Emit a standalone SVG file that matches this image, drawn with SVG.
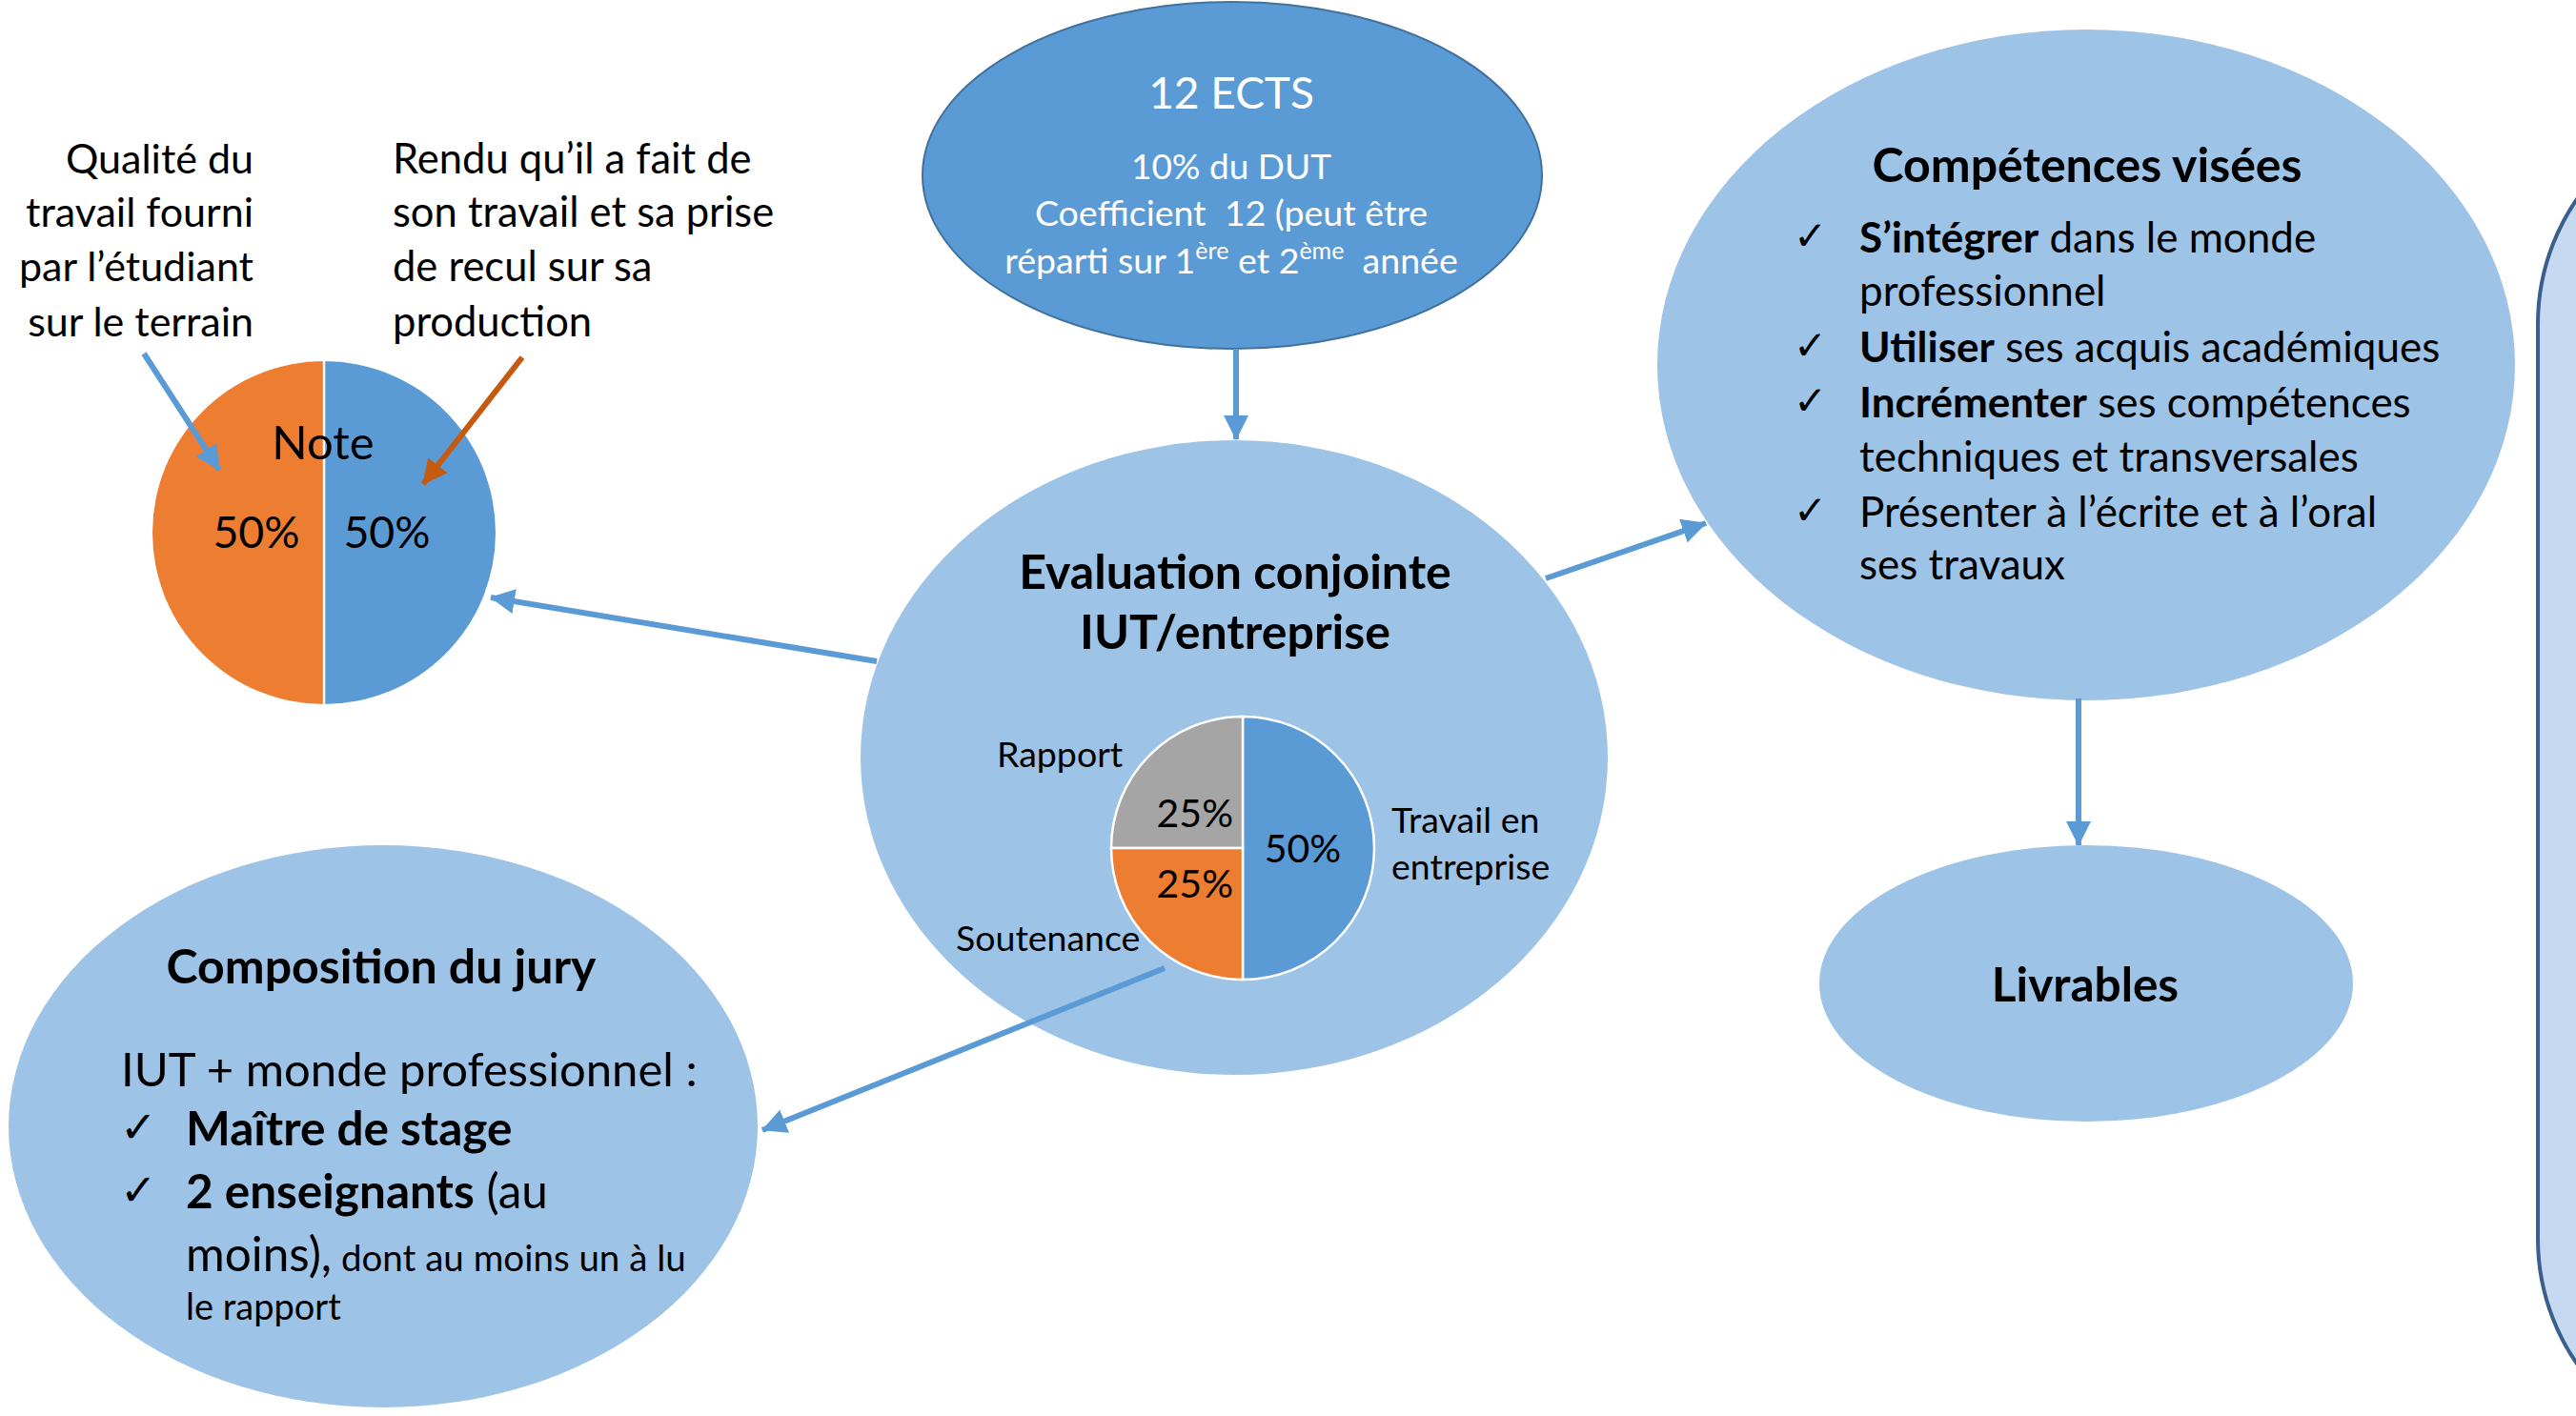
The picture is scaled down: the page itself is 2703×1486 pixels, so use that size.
<svg xmlns="http://www.w3.org/2000/svg" width="2703" height="1486" viewBox="0 0 2703 1486">
<style>
.t{font-family:Lato,'Open Sans','Liberation Sans',sans-serif;fill:#000}
.b{font-weight:bold}
.w{fill:#fff}
.ck{font-family:'DejaVu Sans',sans-serif;fill:#000}
.ell{fill:#9DC3E6}
.conn{stroke:#5B9BD5;stroke-width:6;fill:none;marker-end:url(#ah)}
.pw{stroke:#fff;stroke-width:2.5}
</style>
<defs>
<marker id="ah" markerUnits="userSpaceOnUse" markerWidth="26" markerHeight="26" viewBox="0 0 26 26" refX="25" refY="13" orient="auto"><path d="M0,0 L26,13 L0,26 Z" fill="#5B9BD5"/></marker>
<marker id="ahb" markerUnits="userSpaceOnUse" markerWidth="26" markerHeight="26" viewBox="0 0 26 26" refX="25" refY="13" orient="auto"><path d="M0,0 L26,13 L0,26 Z" fill="#5B9BD5"/></marker>
<marker id="aho" markerUnits="userSpaceOnUse" markerWidth="26" markerHeight="26" viewBox="0 0 26 26" refX="25" refY="13" orient="auto"><path d="M0,0 L26,13 L0,26 Z" fill="#C55A11"/></marker>
</defs>
<rect width="2703" height="1486" fill="#fff"/>

<g id="panel">
<rect x="2663" y="110" width="600" height="1420" rx="230" ry="230" fill="#C6D9F0" stroke="#3A5F8E" stroke-width="4"/>
</g>

<g id="note">
<path d="M340,379 A180,180 0 0 0 340,739 Z" fill="#ED7D31"/>
<path d="M340,379 A180,180 0 0 1 340,739 Z" fill="#5B9BD5"/>
<line x1="340" y1="379" x2="340" y2="739" class="pw"/>
<text class="t" x="339" y="482" font-size="49" text-anchor="middle">Note</text>
<text class="t" x="269" y="575" font-size="46.5" text-anchor="middle">50%</text>
<text class="t" x="406" y="575" font-size="46.5" text-anchor="middle">50%</text>
<g class="t" font-size="43" text-anchor="end">
<text class="t" x="266" y="182">Qualité du</text>
<text class="t" x="266" y="238">travail fourni</text>
<text class="t" x="266" y="295">par l’étudiant</text>
<text class="t" x="266" y="353">sur le terrain</text>
</g>
<g class="t" font-size="43.5">
<text class="t" x="412" y="182">Rendu qu’il a fait de</text>
<text class="t" x="412" y="238">son travail et sa prise</text>
<text class="t" x="412" y="295">de recul sur sa</text>
<text class="t" x="412" y="353">production</text>
</g>
</g>

<g id="ects">
<ellipse cx="1293" cy="184" rx="325" ry="182" fill="#5B9BD5" stroke="#41719C" stroke-width="2"/>
<text class="t w" x="1292" y="114" font-size="46" text-anchor="middle">12 ECTS</text>
<text class="t w" x="1292" y="188" font-size="37" text-anchor="middle">10% du DUT</text>
<text class="t w" x="1292" y="237" font-size="37.5" text-anchor="middle" xml:space="preserve">Coefficient  12 (peut être</text>
<text class="t w" x="1292" y="287" font-size="37.5" text-anchor="middle" xml:space="preserve">réparti sur 1<tspan font-size="25" dy="-15">ère</tspan><tspan dy="15"> et 2</tspan><tspan font-size="25" dy="-15">ème</tspan><tspan dy="15">  année</tspan></text>
</g>

<g id="evaluation">
<ellipse class="ell" cx="1295" cy="795" rx="392" ry="333"/>
<text class="t b" x="1296" y="618" font-size="50" text-anchor="middle">Evaluation conjointe</text>
<text class="t b" x="1296" y="681" font-size="50" text-anchor="middle">IUT/entreprise</text>
<path d="M1304,752 A138,138 0 0 1 1304,1028 Z" fill="#5B9BD5" class="pw"/>
<path d="M1304,890 L1304,752 A138,138 0 0 0 1166,890 Z" fill="#A5A5A5" class="pw"/>
<path d="M1304,890 L1166,890 A138,138 0 0 0 1304,1028 Z" fill="#ED7D31" class="pw"/>
<text class="t" x="1046" y="805" font-size="37.5">Rapport</text>
<text class="t" x="1003" y="998" font-size="37.5">Soutenance</text>
<text class="t" x="1460" y="874" font-size="37.5">Travail en</text>
<text class="t" x="1460" y="923" font-size="37.5">entreprise</text>
<text class="t" x="1294" y="868" font-size="41" text-anchor="end">25%</text>
<text class="t" x="1294" y="942" font-size="41" text-anchor="end">25%</text>
<text class="t" x="1367" y="905" font-size="41" text-anchor="middle">50%</text>
</g>

<g id="competences">
<ellipse class="ell" cx="2189" cy="383" rx="450" ry="352"/>
<text class="t b" x="2190" y="191" font-size="50" text-anchor="middle">Compétences visées</text>
<g class="ck" font-size="42">
<text x="1882" y="262">✓</text>
<text x="1882" y="377">✓</text>
<text x="1882" y="435">✓</text>
<text x="1882" y="550">✓</text>
</g>
<g class="t" font-size="44">
<text class="t" x="1951" y="265"><tspan class="b">S’intégrer</tspan> dans le monde</text>
<text class="t" x="1951" y="321">professionnel</text>
<text class="t" x="1951" y="380"><tspan class="b">Utiliser</tspan> ses acquis académiques</text>
<text class="t" x="1951" y="438"><tspan class="b">Incrémenter</tspan> ses compétences</text>
<text class="t" x="1951" y="495">techniques et transversales</text>
<text class="t" x="1951" y="553">Présenter à l’écrite et à l’oral</text>
<text class="t" x="1951" y="608">ses travaux</text>
</g>
</g>

<g id="livrables">
<ellipse class="ell" cx="2189" cy="1032" rx="280" ry="145"/>
<text class="t b" x="2188" y="1051" font-size="49.5" text-anchor="middle">Livrables</text>
</g>

<g id="composition">
<ellipse class="ell" cx="402" cy="1182" rx="393" ry="295"/>
<text class="t b" x="400" y="1032" font-size="50" text-anchor="middle">Composition du jury</text>
<text class="t" x="127" y="1140" font-size="49">IUT + monde professionnel :</text>
<g class="ck" font-size="46">
<text x="126" y="1199">✓</text>
<text x="126" y="1265">✓</text>
</g>
<text class="t b" x="195" y="1202" font-size="49.5">Maître de stage</text>
<text class="t" x="195" y="1268" font-size="49.5"><tspan class="b">2 enseignants</tspan> (au</text>
<text class="t" x="195" y="1334" font-size="49.5">moins),<tspan font-size="38.5"> dont au moins un à lu</tspan></text>
<text class="t" x="195" y="1385" font-size="38">le rapport</text>
</g>

<g id="connectors">
<line class="conn" x1="1297" y1="366" x2="1297" y2="461"/>
<line class="conn" x1="920" y1="694" x2="515" y2="627"/>
<line class="conn" x1="1622" y1="607" x2="1790" y2="549"/>
<line class="conn" x1="1222" y1="1016" x2="800" y2="1186"/>
<line class="conn" x1="2181" y1="733" x2="2181" y2="887"/>
<line x1="151" y1="371" x2="230" y2="493" stroke="#5B9BD5" stroke-width="6" marker-end="url(#ahb)"/>
<line x1="548" y1="375" x2="444" y2="508" stroke="#C55A11" stroke-width="6" marker-end="url(#aho)"/>
</g>
</svg>
